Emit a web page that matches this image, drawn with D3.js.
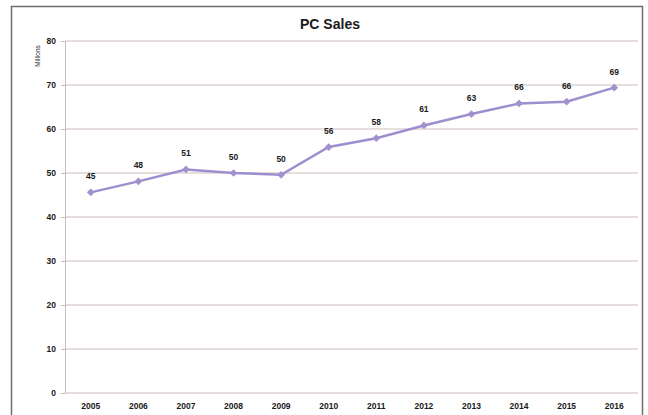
<!DOCTYPE html>
<html><head><meta charset="utf-8">
<script src="https://cdn.jsdelivr.net/npm/d3@7/dist/d3.min.js"></script>
<style>body{margin:0;background:#fff;}svg{display:block;}</style>
</head><body>
<svg id="c" width="648" height="415"></svg>
<script>
const years = ["2005","2006","2007","2008","2009","2010","2011","2012","2013","2014","2015","2016"];
const sales = [45.6, 48.1, 50.8, 50.0, 49.6, 55.9, 57.9, 60.8, 63.4, 65.8, 66.2, 69.4];
const dataLabels = ["45","48","51","50","50","56","58","61","63","66","66","69"];
const yTicks = [0,10,20,30,40,50,60,70,80];
const title = "PC Sales";
const yTitle = "Millions";

const svg = d3.select("#c");
const font = "'Liberation Sans Narrow','Liberation Sans',Arial,sans-serif";
const m = {left:65, right:638, top:41, bottom:393};

// outer border
svg.append("rect").attr("x",11.5).attr("y",6.5).attr("width",631).attr("height",420)
  .attr("fill","none").attr("stroke","#6e6e6e").attr("stroke-width",1.5);

const x = d3.scaleBand().domain(years).range([m.left+2, m.right]);
const y = d3.scaleLinear().domain([0,80]).range([m.bottom, m.top]);

// gridlines
svg.append("g").selectAll("line").data(yTicks).join("line")
  .attr("x1",m.left).attr("x2",m.right)
  .attr("y1",d=>y(d)).attr("y2",d=>y(d))
  .attr("stroke","#cdbdbb").attr("stroke-width",1.2);

// y axis
const ya = svg.append("g").attr("transform",`translate(${m.left},0)`)
  .call(d3.axisLeft(y).tickValues(yTicks).tickSize(4).tickPadding(5));
ya.select(".domain").attr("stroke","#c8bcbc");
ya.selectAll(".tick line").attr("stroke","#c8bcbc");
ya.selectAll("text").attr("font-family",font).attr("font-size",8.5).attr("font-weight","bold").attr("fill","#1a1a1a");

// x axis
const xa = svg.append("g").attr("transform",`translate(0,${m.bottom})`)
  .call(d3.axisBottom(x).tickSize(0).tickPadding(10));
xa.select(".domain").remove();
xa.selectAll("text").attr("font-family",font).attr("font-size",8.5).attr("font-weight","bold").attr("fill","#1a1a1a");

// title
svg.append("text").attr("x",330).attr("y",29).attr("text-anchor","middle")
  .attr("font-family",font).attr("font-size",14).attr("font-weight","bold").attr("fill","#1a1a1a").text(title);
svg.append("text").attr("transform","translate(40,56) rotate(-90)").attr("text-anchor","middle")
  .attr("font-family",font).attr("font-size",6.5).attr("fill","#333").text(yTitle);

// line
const cx = (d,i)=>x(years[i])+x.bandwidth()/2;
svg.append("path").datum(sales)
  .attr("d",d3.line().x((d,i)=>cx(d,i)).y(d=>y(d)))
  .attr("fill","none").attr("stroke","#9d8fcf").attr("stroke-width",2.5);

svg.append("g").selectAll("path").data(sales).join("path")
  .attr("d",d3.symbol(d3.symbolSquare,30))
  .attr("transform",(d,i)=>`translate(${cx(d,i)},${y(d)}) rotate(45)`)
  .attr("fill","#a192cf");

svg.append("g").selectAll("text").data(sales).join("text")
  .attr("x",(d,i)=>cx(d,i)).attr("y",d=>y(d)-13)
  .attr("text-anchor","middle").attr("font-family",font).attr("font-size",8.5).attr("font-weight","bold").attr("fill","#1a1a1a")
  .text((d,i)=>dataLabels[i]);
</script>
</body></html>
